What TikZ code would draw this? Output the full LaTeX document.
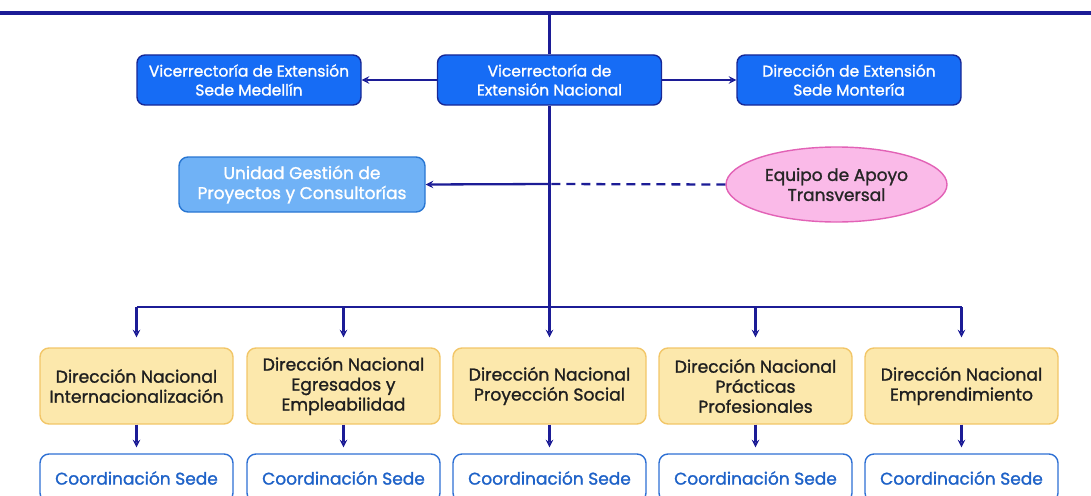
\documentclass[tikz,border=0pt]{standalone}
\usepackage{fontspec}
\setmainfont{Poppins}
\newfontfamily\medfont{Poppins}[FakeBold=1.3]
\usepackage{xcolor}
\usetikzlibrary{shapes,arrows,positioning}
\definecolor{navyline}{RGB}{28,28,150}
\definecolor{topfill}{RGB}{22,108,245}
\definecolor{topdraw}{RGB}{24,40,150}
\definecolor{ugpfill}{RGB}{112,178,246}
\definecolor{ugpdraw}{RGB}{40,118,210}
\definecolor{pinkfill}{RGB}{250,186,232}
\definecolor{pinkdraw}{RGB}{226,98,182}
\definecolor{yelfill}{RGB}{252,232,172}
\definecolor{yeldraw}{RGB}{242,198,104}
\definecolor{coordraw}{RGB}{46,112,212}
\definecolor{coortext}{RGB}{30,98,200}

\begin{document}
\begin{tikzpicture}[x=1pt, y=-1pt,
      topbox/.style={rectangle, draw=topdraw, fill=topfill, line width=1.4pt, rounded corners=8pt,
                     minimum width=224pt, minimum height=50pt, align=center, text=white,
                     font=\medfont\fontsize{15.5}{19}\selectfont, inner sep=2pt},
      ugpbox/.style={rectangle, draw=ugpdraw, fill=ugpfill, line width=1.4pt, rounded corners=9pt,
                     minimum width=246pt, minimum height=55pt, align=center, text=white,
                     font=\medfont\fontsize{17}{20}\selectfont, inner sep=2pt},
      apoyo/.style={ellipse, draw=pinkdraw, fill=pinkfill, line width=1.4pt,
                    minimum width=221pt, minimum height=75pt, align=center, text=black!85,
                    font=\medfont\fontsize{17}{20}\selectfont, inner sep=0pt},
      dirbox/.style={rectangle, draw=yeldraw, fill=yelfill, line width=1.4pt, rounded corners=9pt,
                     minimum width=193pt, minimum height=76pt, align=center, text=black!88,
                     font=\medfont\fontsize{17.2}{20}\selectfont, inner sep=2pt},
      coorbox/.style={rectangle, draw=coordraw, fill=white, line width=1.4pt, rounded corners=9pt,
                      minimum width=193pt, minimum height=48pt, align=center, text=coortext,
                      font=\medfont\fontsize{17}{20}\selectfont, inner sep=2pt},
      arrow/.style={->, >=stealth, line width=2.3pt, draw=navyline},
      link/.style={line width=2.3pt, draw=navyline},
    ]
    \clip (0,0) rectangle (1091,495);

    \coordinate (linL) at (0,13);
    \coordinate (linR) at (1091,13);
    \coordinate (linC) at (549.5,13);
    \coordinate (cruce) at (549.5,184);
    \coordinate (bus) at (549.5,307);
    \coordinate (busL) at (136.5,307);
    \coordinate (busR) at (961.5,307);

    \node[topbox] (vnal) at (549.5,80) {Vicerrectoría de\\Extensión Nacional};
    \node[topbox] (vmed) at (249,80)   {Vicerrectoría de Extensión\\Sede Medellín};
    \node[topbox] (dmon) at (849,80)   {Dirección de Extensión\\Sede Montería};

    \node[ugpbox] (ugp)    at (302,184.5) {Unidad Gestión de\\Proyectos y Consultorías};
    \node[apoyo]  (equipo) at (836.5,184.5) {Equipo de Apoyo\\Transversal};

    \node[dirbox] (dint) at (136.5,386) {Dirección Nacional\\Internacionalización};
    \node[dirbox] (degr) at (343.5,386) {Dirección Nacional\\Egresados y\\Empleabilidad};
    \node[dirbox] (dpro) at (549.5,386) {Dirección Nacional\\Proyección Social};
    \node[dirbox] (dpra) at (755.5,386) {Dirección Nacional\\Prácticas\\Profesionales};
    \node[dirbox] (demp) at (961.5,386) {Dirección Nacional\\Emprendimiento};

    \node[coorbox] (cint) at (136.5,478) {Coordinación Sede};
    \node[coorbox] (cegr) at (343.5,478) {Coordinación Sede};
    \node[coorbox] (cpro) at (549.5,478) {Coordinación Sede};
    \node[coorbox] (cpra) at (755.5,478) {Coordinación Sede};
    \node[coorbox] (cemp) at (961.5,478) {Coordinación Sede};

    % top line and trunk
    \draw[link, line width=3.4pt] (linL) -- (linR);
    \draw[link] (linC) -- (vnal.north);
    \draw[link] (vnal.south) -- (bus);
    \draw[arrow] (vnal.west) -- (vmed.east);
    \draw[arrow] (vnal.east) -- (dmon.west);

    % support unit
    \draw[link, dash pattern=on 9pt off 6pt] (equipo.west) -- (cruce);
    \draw[arrow] (cruce) -- (ugp.east);

    % national directions
    \draw[link] (busL) -- (busR);
    \draw[arrow, shorten >=10pt] (busL) -- (dint.north);
    \draw[arrow, shorten >=10pt] (busL -| degr.north) -- (degr.north);
    \draw[arrow, shorten >=10pt] (bus) -- (dpro.north);
    \draw[arrow, shorten >=10pt] (busR -| dpra.north) -- (dpra.north);
    \draw[arrow, shorten >=10pt] (busR) -- (demp.north);

    \draw[arrow, shorten >=6pt] (dint) -- (cint);
    \draw[arrow, shorten >=6pt] (degr) -- (cegr);
    \draw[arrow, shorten >=6pt] (dpro) -- (cpro);
    \draw[arrow, shorten >=6pt] (dpra) -- (cpra);
    \draw[arrow, shorten >=6pt] (demp) -- (cemp);
  \end{tikzpicture}
\end{document}
